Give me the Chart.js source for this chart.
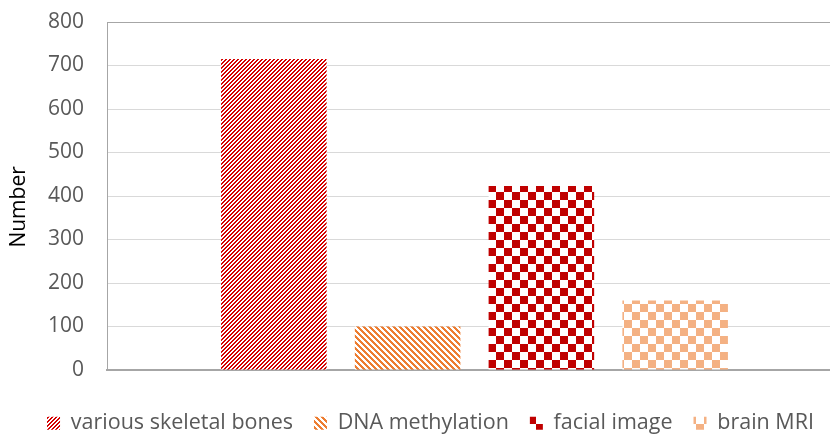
<!DOCTYPE html>
<html>
<head>
<meta charset="utf-8">
<script src="https://cdn.jsdelivr.net/npm/chart.js@4/dist/chart.umd.min.js"></script>
<style>
  html, body { margin: 0; padding: 0; background: #ffffff; overflow: hidden; }
  #wrap { position: absolute; left: 0; top: 0; width: 861px; height: 444px; }
</style>
</head>
<body>
<div id="wrap"><canvas id="c" width="861" height="444"></canvas></div>
<script>
// ---- data ----
const categories = [''];
const seriesNames = ['various skeletal bones', 'DNA methylation', 'facial image', 'brain MRI'];
const seriesValues = [[715], [100], [423], [160]];
const yTicks = [0, 100, 200, 300, 400, 500, 600, 700, 800];
const yTitle = 'Number    ';

// ---- patterns ----
function makePattern(size, color, test) {
  const c = document.createElement('canvas');
  c.width = size; c.height = size;
  const g = c.getContext('2d');
  g.fillStyle = '#ffffff';
  g.fillRect(0, 0, size, size);
  g.fillStyle = color;
  for (let y = 0; y < size; y++) {
    for (let x = 0; x < size; x++) {
      if (test(x, y, size)) g.fillRect(x, y, 1, 1);
    }
  }
  return document.getElementById('c').getContext('2d').createPattern(c, 'repeat');
}
const patUp = makePattern(4, '#d40000', (x, y) => ((x + y) % 4) < 2);
const patDown = makePattern(6, '#ed7d31', (x, y) => (((x - y) % 6) + 6) % 6 < 3);
const patChkRed = makePattern(16, '#c00000', (x, y) => ((Math.floor(x / 8) + Math.floor(y / 8)) % 2) === 0);
const patChkOrg = makePattern(16, '#f4b183', (x, y) => ((Math.floor(x / 8) + Math.floor(y / 8)) % 2) === 0);
const fills = [patUp, patDown, patChkRed, patChkOrg];

const datasets = seriesNames.map((name, i) => ({
  label: name,
  data: seriesValues[i],
  backgroundColor: fills[i],
  borderWidth: 0,
  categoryPercentage: 0.728,
  barPercentage: 0.789,
  yAxisID: 'y'
}));

new Chart(document.getElementById('c'), {
  type: 'bar',
  data: { labels: categories, datasets: datasets },
  options: {
    responsive: false,
    animation: false,
    devicePixelRatio: 1,
    layout: { padding: { top: 22, left: 0, right: 0, bottom: 0 } },
    plugins: {
      tooltip: { enabled: false },
      legend: {
        position: 'bottom',
        labels: {
          boxWidth: 13,
          boxHeight: 13,
          padding: 21,
          color: '#595959',
          font: { family: 'Open Sans', size: 21.5 }
        }
      }
    },
    scales: {
      x: {
        display: true,
        grid: { display: false },
        ticks: { display: false },
        border: { display: true, color: '#a6a6a6', width: 2 },
        afterFit: (s) => { s.height = 21.5; }
      },
      y: {
        position: 'left',
        min: 0,
        max: 800,
        afterBuildTicks: (s) => { s.ticks = yTicks.map(v => ({ value: v })); },
        ticks: {
          color: '#595959',
          padding: 0,
          font: { family: 'Open Sans', size: 21 }
        },
        grid: {
          drawTicks: true,
          tickLength: 23,
          tickColor: 'rgba(0,0,0,0)',
          color: (ctx) => (ctx.tick && ctx.tick.value === 800) ? '#a6a6a6' : '#d9d9d9',
          lineWidth: 1
        },
        border: { display: true, color: '#a6a6a6', width: 1 },
        title: {
          display: true,
          text: yTitle,
          color: '#000000',
          padding: { top: 6, bottom: 0 },
          font: { family: 'Open Sans', size: 21 }
        },
        afterFit: (s) => { s.width = 107; }
      },
      y2: {
        position: 'right',
        display: true,
        grid: { display: false },
        ticks: { display: false },
        border: { display: false },
        afterFit: (s) => { s.width = 19; }
      }
    }
  }
});
</script>
</body>
</html>
